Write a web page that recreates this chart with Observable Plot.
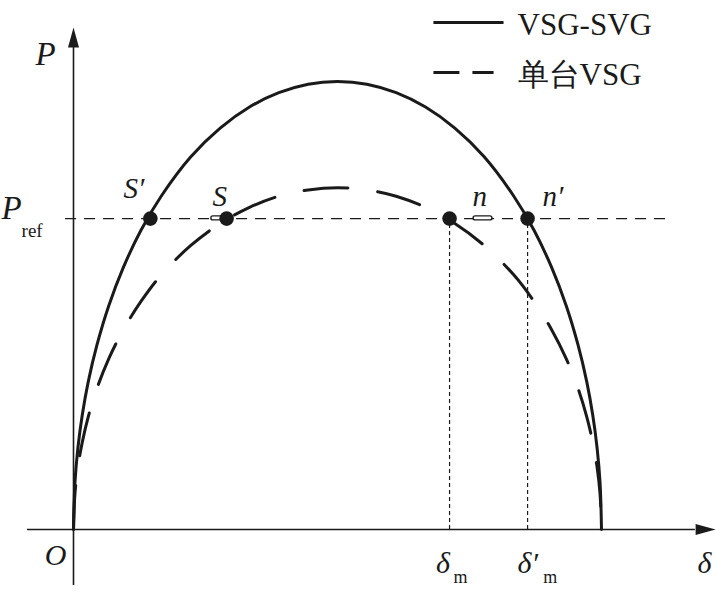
<!DOCTYPE html>
<html>
<head>
<meta charset="utf-8">
<script src="https://cdn.jsdelivr.net/npm/d3@7"></script>
<script src="https://cdn.jsdelivr.net/npm/@observablehq/plot@0.6"></script>
<style>
  html, body { margin: 0; padding: 0; background: #fff; }
  #chart svg text { font-family: "Liberation Serif", "Tinos", "Times New Roman", "Nimbus Roman", "DejaVu Serif", "Noto Serif", serif !important; }
</style>
</head>
<body>
<div id="chart"></div>
<script>
// ---- data ----
// power angle δ (deg), 0 at O, 180 at the right end of the curves
const delta = [0, 0.5, 1.5, 3, 5, 8, 12, 17, 23, 30, 40, 50, 60, 70, 80, 90, 100, 110, 120, 130, 140, 150, 157, 163, 168, 172, 175, 177, 178.5, 179.5, 180];
// VSG-SVG curve (solid), per-unit of its peak
const pSolid = [0, .105, .182, .256, .329, .412, .499, .585, .668, .745, .832, .896, .943, .975, .994, 1, .994, .975, .943, .896, .832, .745, .668, .585, .499, .412, .329, .256, .182, .105, 0];
// single VSG curve (dashed)
const pDashed = [0, .080, .139, .195, .251, .315, .381, .446, .509, .569, .634, .683, .719, .744, .758, .763, .758, .744, .719, .683, .634, .569, .509, .446, .381, .315, .251, .195, .139, .080, 0];
// reference power
const Pref = 0.694;
// operating points on the Pref line
const opNames = ["S′", "S", "n", "n′"];
const opDelta = [26.2, 52.2, 128.2, 154.8];
// δm and δm′
const dmDelta = [128.2, 154.8];
// legend entries
const legendNames = ["VSG-SVG", "单台VSG"];

// ---- tables ----
const solid = delta.map((d, i) => ({d, p: pSolid[i]}));
const dashed = delta.map((d, i) => ({d, p: pDashed[i]}));
const ops = opNames.map((n, i) => ({n, d: opDelta[i], p: Pref}));

const serif = "Liberation Serif, DejaVu Serif, serif";
const ink = "#1a1a1a";

// arrowhead symbols (tip at origin)
const arrowUp = {draw(ctx) { ctx.moveTo(0, 0); ctx.lineTo(-5.5, 20); ctx.lineTo(5.5, 20); ctx.closePath(); }};
const arrowRight = {draw(ctx) { ctx.moveTo(0, 0); ctx.lineTo(-20, -5.5); ctx.lineTo(-20, 5.5); ctx.closePath(); }};

const it = {fontFamily: serif, fontStyle: "italic", fill: ink, lineAnchor: "bottom"};
const rm = {fontFamily: serif, fill: ink, lineAnchor: "bottom"};

const chart = Plot.plot({
  width: 716,
  height: 597,
  margin: 0,
  style: {background: "#fff"},
  x: {domain: [0, 180], range: [73, 601], axis: null},
  y: {domain: [0, 1], range: [529, 81], axis: null},
  marks: [
    // axes
    Plot.ruleY([0], {x1: -15.7, x2: 212, stroke: ink, strokeWidth: 1.6}),
    Plot.ruleX([0], {y1: -0.125, y2: 1.08, stroke: ink, strokeWidth: 1.6}),
    Plot.dot([{d: 0, p: 1.1205}], {x: "d", y: "p", symbol: arrowUp, fill: ink, stroke: "none"}),
    Plot.dot([{d: 218.9, p: 0}], {x: "d", y: "p", symbol: arrowRight, fill: ink, stroke: "none"}),
    // Pref line
    Plot.ruleY([Pref], {x1: -2.7, x2: 202.5, stroke: ink, strokeWidth: 1.4, strokeDasharray: "11,8"}),
    // δm verticals
    Plot.ruleX(dmDelta, {y1: 0, y2: Pref, stroke: ink, strokeWidth: 1.2, strokeDasharray: "4,3"}),
    // curves
    Plot.line(solid, {x: "d", y: "p", curve: "catmull-rom", stroke: ink, strokeWidth: 3}),
    Plot.line(dashed, {x: "d", y: "p", curve: "catmull-rom", stroke: ink, strokeWidth: 3, strokeDasharray: "44,30"}),
    // small capsule marks near S and n
    Plot.rect([{x1: 47.0, x2: 51.1}, {x1: 136.4, x2: 142.8}], {x1: "x1", x2: "x2", y1: 0.690, y2: 0.699, rx: 2, fill: "#fff", stroke: ink, strokeWidth: 1.4}),
    // operating points
    Plot.dot(ops, {x: "d", y: "p", r: 7.3, fill: ink, stroke: "none"}),
    // point labels
    Plot.text(ops, {x: [17.05, 47.4, 136.0, 159.9], y: [0.741, 0.723, 0.723, 0.723], text: "n", fontSize: 29, textAnchor: "start", ...it}),
    // axis labels
    Plot.text(["P"], {x: -9.5, y: 1.036, text: d => d, fontSize: 33, textAnchor: "middle", ...it}),
    Plot.text(["P"], {x: -21.1, y: Pref, text: d => d, fontSize: 33, textAnchor: "middle", ...it}),
    Plot.text(["ref"], {x: -17.7, y: 0.652, text: d => d, fontSize: 19, textAnchor: "start", ...rm}),
    Plot.text(["O"], {x: -6.1, y: -0.080, text: d => d, fontSize: 30, textAnchor: "middle", ...it}),
    Plot.text(["δ"], {x: 215.1, y: -0.096, text: d => d, fontSize: 30, textAnchor: "middle", ...it}),
    Plot.text(["δ", "δ′"], {x: [123.6, 151.4], y: -0.096, text: d => d, fontSize: 30, textAnchor: "start", ...it}),
    Plot.text(["m", "m"], {x: [131.9, 162.5], y: -0.1205, text: d => d, fontSize: 18, textAnchor: "middle", ...rm}),
    // legend
    Plot.link([0], {x1: 122.7, x2: 146.6, y1: 1.1317, y2: 1.1317, stroke: ink, strokeWidth: 3}),
    Plot.link([0], {x1: 122.7, x2: 143.2, y1: 1.0201, y2: 1.0201, stroke: ink, strokeWidth: 3, strokeDasharray: "26,13"}),
    Plot.text(legendNames, {x: 151.4, y: [1.1027, 0.9933], text: d => d, fontSize: 31, textAnchor: "start", ...rm})
  ]
});
document.getElementById("chart").appendChild(chart);
</script>
</body>
</html>
